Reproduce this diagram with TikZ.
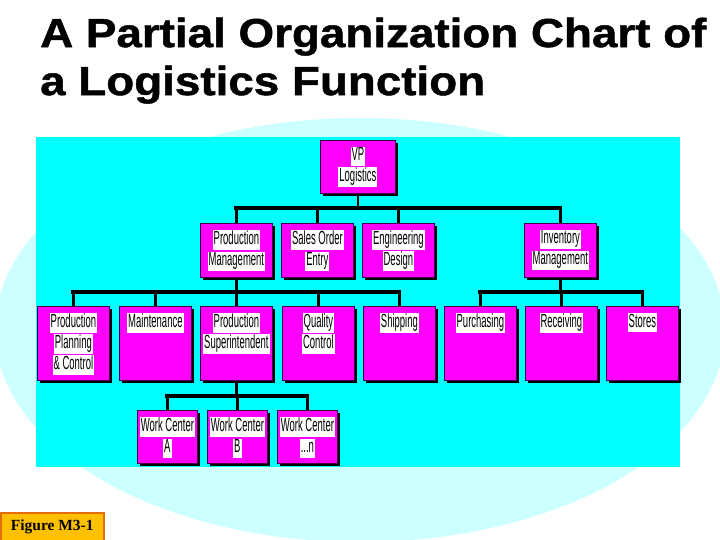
\documentclass[tikz,border=0pt]{standalone}
\usepackage{fontspec}
\setmainfont{Liberation Sans}
\newfontfamily\boxfont[FakeStretch=0.5]{Liberation Sans}
\newfontfamily\titlefont[FakeStretch=1.13, FakeBold=1.2]{Liberation Sans Bold}
\newfontfamily\figfont{Liberation Serif}
\usetikzlibrary{shadows}
\definecolor{lightcy}{RGB}{204,255,255}
\definecolor{cy}{RGB}{0,255,255}
\definecolor{mag}{RGB}{255,0,255}
\definecolor{bord}{RGB}{70,0,70}
\definecolor{gold}{RGB}{255,192,0}
\definecolor{orng}{RGB}{228,108,10}
\setlength\fboxsep{1pt}
\newcommand\wl[1]{\colorbox{white}{\vphantom{Ag}#1}}
\begin{document}
\begin{tikzpicture}[x=1pt,y=-1pt,
  obox/.style={draw=bord, line width=0.8pt, fill=mag, anchor=north west, inner sep=0pt,
    drop shadow={shadow xshift=2.5pt, shadow yshift=-2.5pt, opacity=1, fill=black}},
  lbl/.style={anchor=north, inner sep=0pt, align=center, yshift=-6.7pt,
    font=\boxfont\fontsize{19}{21}\selectfont},
  wide/.style={minimum width=72pt},
  vbar/.style={line width=2.5pt, black},
  hbar/.style={line width=4pt, black, line cap=rect}]
\useasboundingbox (0,0) rectangle (720,540);
% backgrounds
\fill[lightcy] (360,330) ellipse [x radius=365, y radius=212];
\fill[cy] (36,137) rectangle (680,467);
% title
\node[anchor=north west, inner sep=0pt, align=left, font=\titlefont\fontsize{40.5}{48}\selectfont] (title) at (40,17.5)
  {A Partial Organization Chart of\\a Logistics Function};
% level 1
\node[obox, minimum width=75pt, minimum height=53pt, label={[lbl]north:{\wl{VP}\\\wl{Logistics}}}] (vp) at (320,140) {};
% level 2
\node[obox, wide, minimum height=54pt, label={[lbl]north:{\wl{Production}\\\wl{Management}}}] (pm) at (200,223) {};
\node[obox, wide, minimum height=54pt, label={[lbl]north:{\wl{Sales Order}\\\wl{Entry}}}] (so) at (281,223) {};
\node[obox, wide, minimum height=54pt, label={[lbl]north:{\wl{Engineering}\\\wl{Design}}}] (ed) at (362,223) {};
\node[obox, wide, minimum height=54pt, label={[lbl]north:{\wl{Inventory}\\\wl{Management}}}] (im) at (524,223) {};
% level 3
\node[obox, wide, minimum height=74pt, label={[lbl]north:{\wl{Production}\\\wl{Planning}\\\wl{\& Control}}}] (ppc) at (37,306) {};
\node[obox, wide, minimum height=74pt, label={[lbl]north:{\wl{Maintenance}}}] (mt) at (119,306) {};
\node[obox, wide, minimum height=74pt, label={[lbl]north:{\wl{Production}\\\wl{Superintendent}}}] (ps) at (200,306) {};
\node[obox, wide, minimum height=74pt, label={[lbl]north:{\wl{Quality}\\\wl{Control}}}] (qc) at (282,306) {};
\node[obox, wide, minimum height=74pt, label={[lbl]north:{\wl{Shipping}}}] (sh) at (363,306) {};
\node[obox, wide, minimum height=74pt, label={[lbl]north:{\wl{Purchasing}}}] (pu) at (444,306) {};
\node[obox, wide, minimum height=74pt, label={[lbl]north:{\wl{Receiving}}}] (re) at (525,306) {};
\node[obox, wide, minimum height=74pt, label={[lbl]north:{\wl{Stores}}}] (st) at (606,306) {};
% level 4
\node[obox, minimum width=60pt, minimum height=53pt, label={[lbl]north:{\wl{Work Center}\\\wl{A}}}] (wa) at (137,410) {};
\node[obox, minimum width=60pt, minimum height=53pt, label={[lbl]north:{\wl{Work Center}\\\wl{B}}}] (wb) at (207,410) {};
\node[obox, minimum width=60pt, minimum height=53pt, label={[lbl]north:{\wl{Work Center}\\\wl{...n}}}] (wn) at (277,410) {};
% bar levels
\coordinate (b1) at (0,208);
\coordinate (b2) at (0,292);
\coordinate (b3) at (0,396);
% connectors level 1-2
\draw[vbar] (vp.south) -- (vp.south |- b1);
\draw[hbar] (pm.north |- b1) -- (im.north |- b1);
\foreach \n in {pm,so,ed,im} \draw[vbar] (\n.north |- b1) -- (\n.north);
% connectors level 2-3
\draw[vbar] (pm.south) -- (pm.south |- b2);
\draw[hbar] (ppc.north |- b2) -- (sh.north |- b2);
\foreach \n in {ppc,mt,ps,qc,sh} \draw[vbar] (\n.north |- b2) -- (\n.north);
\draw[vbar] (im.south) -- (im.south |- b2);
\draw[hbar] (pu.north |- b2) -- (st.north |- b2);
\foreach \n in {pu,re,st} \draw[vbar] (\n.north |- b2) -- (\n.north);
% connectors level 3-4
\draw[vbar] (ps.south) -- (ps.south |- b3);
\draw[hbar] (wa.north |- b3) -- (wn.north |- b3);
\foreach \n in {wa,wb,wn} \draw[vbar] (\n.north |- b3) -- (\n.north);
% figure tag
\node[draw=orng, line width=1.5pt, fill=gold, anchor=north west, minimum width=103pt, minimum height=28pt, inner sep=0pt,
  font=\figfont\bfseries\fontsize{15.5}{17}\selectfont] (fig) at (0,512) {Figure M3-1};
\end{tikzpicture}
\end{document}
